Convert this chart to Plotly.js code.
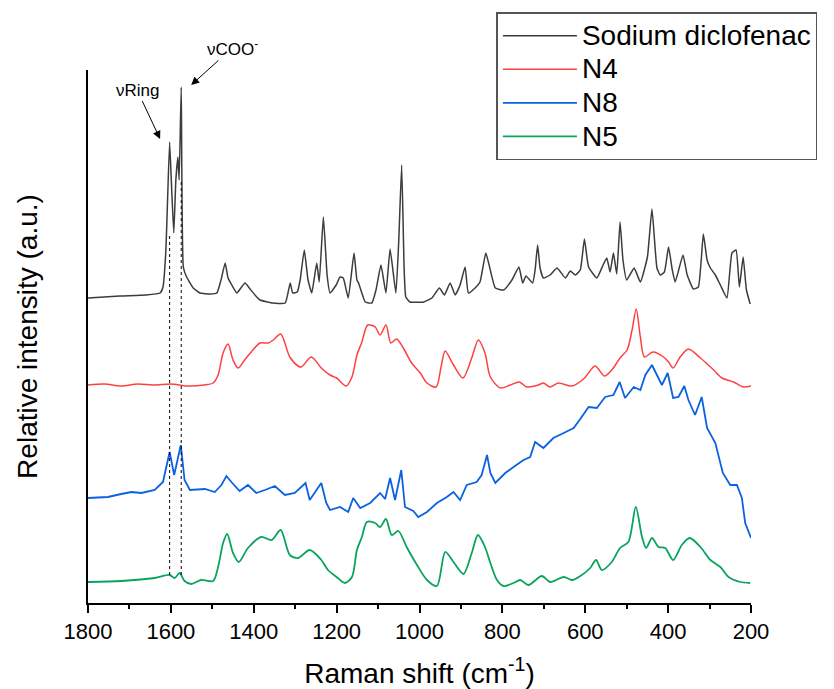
<!DOCTYPE html>
<html>
<head>
<meta charset="utf-8">
<script src="https://cdn.plot.ly/plotly-3.0.1.min.js"></script>
<style>html,body{margin:0;padding:0;background:#fff;}#chart{width:834px;height:689px;}</style>
</head>
<body>
<div id="chart"></div>
<script>
// Raman shift (cm-1) and stacked relative intensities (a.u.)
const sdShift = [1800,1723,1660,1626,1619,1612,1608,1603,1598,1593,1588,1583,1580,1575,1570,1562,1546,1530,1505,1489,1479,1469,1462,1453,1441,1431,1421,1409,1397,1385,1353,1324,1312,1306,1295,1288,1278,1269,1260,1248,1242,1232,1223,1216,1201,1192,1184,1172,1158,1151,1147,1131,1115,1105,1093,1081,1071,1057,1050,1043,1037,1033,1023,990,970,952,940,926,914,902,890,882,866,854,840,832,817,797,777,760,751,743,727,721,715,709,701,685,668,648,636,624,612,602,592,572,557,548,540,532,524,516,509,500,482,467,450,439,427,419,409,399,390,383,364,354,339,327,315,306,298,286,274,258,246,236,228,219,211,202];
const sdIntensity = [305,307,308,310,316,353,403,461,413,370,423,446,423,516,336,326,315,310,309,310,323,340,325,318,310,315,320,314,308,303,300,300,320,310,311,323,353,323,310,340,321,386,328,310,318,326,325,305,350,323,320,301,300,313,338,310,354,310,363,438,333,306,301,301,305,315,308,320,308,318,336,310,315,321,350,338,315,313,323,336,320,327,320,333,358,335,325,328,335,325,332,328,333,364,336,325,338,345,331,350,329,381,343,323,335,321,346,394,335,328,331,356,333,321,348,328,314,316,369,343,335,328,318,305,350,353,316,346,313,299];

const n4Shift = [1800,1760,1720,1680,1640,1600,1560,1520,1498,1486,1474,1462,1450,1438,1422,1406,1385,1365,1353,1335,1313,1293,1285,1261,1237,1216,1200,1177,1163,1151,1139,1125,1107,1095,1081,1069,1055,1039,1019,998,982,960,948,938,918,895,874,858,842,829,805,781,759,741,713,701,685,665,632,604,576,554,536,516,499,487,477,467,457,437,411,399,388,371,351,322,290,270,242,218,200];
const n4Intensity = [218,219,217,219,218,219,217,218,220,228,250,259,243,235,243,251,260,260,263,269,246,237,236,246,235,228,225,217,226,248,261,278,276,268,278,260,264,255,240,230,220,216,236,252,238,225,245,263,250,226,215,218,221,216,218,220,216,220,217,224,237,227,233,245,253,273,294,266,246,251,246,241,235,246,254,245,233,225,221,216,217];

const n8Shift = [1800,1752,1720,1695,1671,1639,1619,1603,1592,1576,1567,1554,1518,1494,1478,1466,1454,1434,1414,1394,1373,1349,1325,1301,1275,1265,1237,1225,1216,1192,1172,1160,1143,1119,1095,1083,1071,1059,1044,1035,1015,1003,982,958,934,918,902,886,862,850,837,829,817,793,773,749,733,721,701,677,652,628,612,592,572,552,532,517,504,483,467,455,439,427,415,401,388,375,361,351,335,319,306,286,268,250,234,222,214,200];
const n8Intensity = [105,106,109,111,110,113,121,151,128,158,123,113,114,111,118,127,121,112,118,110,113,117,108,110,120,103,120,100,93,96,91,105,95,100,110,104,125,103,133,96,92,86,91,100,106,111,103,118,121,128,148,130,120,130,136,143,146,161,155,165,170,175,184,196,195,206,208,221,205,216,213,228,238,228,218,230,205,206,217,203,188,206,175,160,130,118,118,105,80,65];

const n5Shift = [1800,1720,1639,1603,1591,1579,1567,1551,1527,1498,1486,1474,1464,1450,1436,1414,1382,1357,1335,1313,1293,1265,1237,1221,1200,1180,1163,1151,1139,1127,1107,1095,1081,1067,1051,1031,1006,982,958,938,918,894,874,859,842,829,813,797,773,757,737,705,685,652,632,612,588,574,560,536,516,496,478,463,453,439,423,407,388,367,348,322,298,274,254,226,202];
const n5Intensity = [21,22,25,28,25,30,22,19,23,22,36,60,69,50,41,55,66,63,73,48,45,53,43,33,26,20,26,53,66,81,80,76,84,68,72,56,38,23,17,51,41,29,50,68,56,40,23,17,20,23,18,27,21,26,23,27,35,43,33,41,55,61,96,66,55,65,56,55,43,58,65,56,43,36,26,21,20];

const seriesNames = ["Sodium diclofenac", "N4", "N8", "N5"];
const xTickVals = [1800,1600,1400,1200,1000,800,600,400,200];
const markedBands = [1603, 1575];
const bandLabels = ["\u03bdRing", "\u03bdCOO<sup>-</sup>"];

const colors = ["#3c3c3c", "#ff4040", "#0b62e0", "#0aa35c"];
const widths = [1.5, 1.5, 1.8, 1.8];
const shapesLine = ["spline", "spline", "linear", "spline"];
const smooth = [0.4, 0.8, 0, 0.8];
const xs = [sdShift, n4Shift, n8Shift, n5Shift];
const ys = [sdIntensity, n4Intensity, n8Intensity, n5Intensity];

const traces = seriesNames.map((name, i) => ({
  type: "scatter", mode: "lines",
  name: '<span style="font-size:28px">' + name + '</span>',
  x: xs[i], y: ys[i],
  line: {color: colors[i], width: widths[i], shape: shapesLine[i], smoothing: smooth[i] || 1},
  hoverinfo: "skip"
}));

const font = "Arial, 'Liberation Sans', sans-serif";
const dashTops = [370, 421];
const shapes = markedBands.map((b, i) => ({
  type: "line", xref: "x", yref: "y",
  x0: b, x1: b, y0: 28, y1: dashTops[i],
  line: {color: "#000", width: 1, dash: "3px,3px"}
}));

const layout = {
  width: 834, height: 689,
  margin: {l: 88, r: 83, t: 70, b: 86},
  paper_bgcolor: "#fff", plot_bgcolor: "#fff",
  showlegend: true,
  legend: {
    x: 0.616, y: 1.108, xanchor: "left", yanchor: "top",
    bgcolor: "#fff", bordercolor: "#555", borderwidth: 1.5,
    font: {family: font, size: 23.5, color: "#000"},
    itemwidth: 74, tracegroupgap: 0
  },
  xaxis: {
    range: [1800, 200], autorange: false,
    tickvals: xTickVals, ticks: "outside", ticklen: 8, tickwidth: 2, tickcolor: "#000",
    minor: {dtick: 100, ticks: "outside", ticklen: 4, tickwidth: 2, tickcolor: "#000", showgrid: false},
    showline: true, linecolor: "#000", linewidth: 2, mirror: false,
    showgrid: false, zeroline: false,
    tickfont: {family: font, size: 22, color: "#000"},
    title: {text: "Raman shift (cm<sup>-1</sup>)", font: {family: font, size: 28, color: "#000"}, standoff: 28}
  },
  yaxis: {
    range: [0, 533], autorange: false,
    showticklabels: false, ticks: "",
    showline: true, linecolor: "#000", linewidth: 2,
    showgrid: false, zeroline: false,
    title: {text: "Relative intensity (a.u.)", font: {family: font, size: 28, color: "#000"}, standoff: 40}
  },
  shapes: shapes,
  annotations: [
    {x: 1626, y: 464, xref: "x", yref: "y", text: bandLabels[0], showarrow: true,
     ax: -23, ay: -49, arrowhead: 2, arrowsize: 1.6, arrowwidth: 1, arrowcolor: "#000",
     font: {family: font, size: 17, color: "#000"}},
    {x: 1551, y: 518, xref: "x", yref: "y", text: bandLabels[1], showarrow: true,
     ax: 41, ay: -37, arrowhead: 2, arrowsize: 1.6, arrowwidth: 1, arrowcolor: "#000",
     font: {family: font, size: 17, color: "#000"}}
  ]
};

Plotly.newPlot("chart", traces, layout, {displayModeBar: false, staticPlot: true});
</script>
</body>
</html>
